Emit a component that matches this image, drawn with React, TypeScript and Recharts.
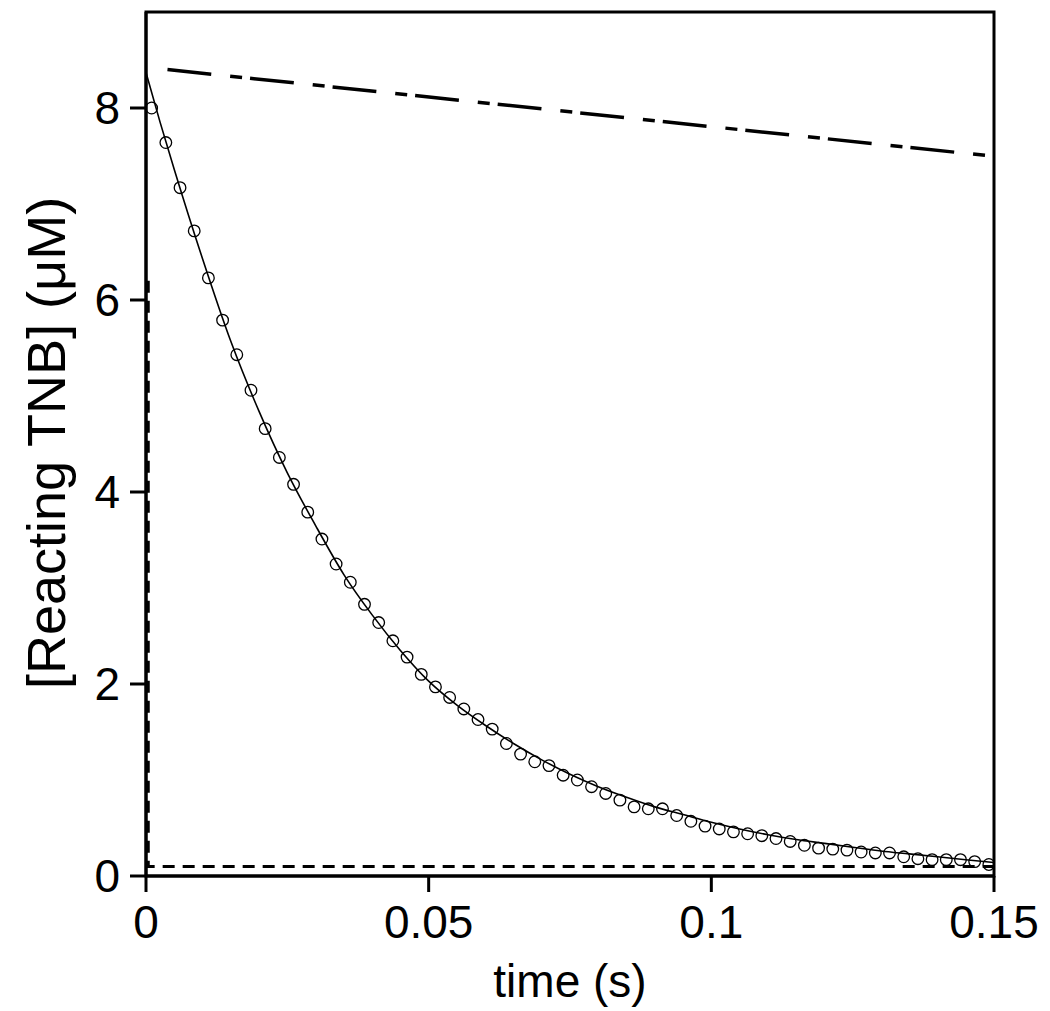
import {
  ComposedChart,
  Line,
  Scatter,
  XAxis,
  YAxis,
  ReferenceArea,
} from "recharts";

// measured points (open circles)
const obsTime = [
  0.001, 0.00351, 0.00602, 0.00853, 0.01104, 0.01355, 0.01606, 0.01857, 0.02108, 0.02359,
  0.0261, 0.02861, 0.03112, 0.03363, 0.03614, 0.03865, 0.04116, 0.04367, 0.04618, 0.04869,
  0.0512, 0.05371, 0.05622, 0.05873, 0.06124, 0.06375, 0.06626, 0.06877, 0.07128, 0.07379,
  0.0763, 0.07881, 0.08132, 0.08383, 0.08634, 0.08885, 0.09136, 0.09387, 0.09638, 0.09889,
  0.1014, 0.10391, 0.10642, 0.10893, 0.11144, 0.11395, 0.11646, 0.11897, 0.12148, 0.12399,
  0.1265, 0.12901, 0.13152, 0.13403, 0.13654, 0.13905, 0.14156, 0.14407, 0.14658, 0.14909,
];
const obsTnb = [
  8.0, 7.64, 7.17, 6.72, 6.23, 5.79, 5.43, 5.06, 4.66, 4.36,
  4.08, 3.79, 3.51, 3.25, 3.06, 2.83, 2.64, 2.45, 2.28, 2.1,
  1.97, 1.86, 1.74, 1.63, 1.53, 1.38, 1.27, 1.19, 1.15, 1.05,
  1.0, 0.93, 0.86, 0.79, 0.72, 0.7, 0.7, 0.63, 0.57, 0.52,
  0.49, 0.46, 0.44, 0.42, 0.39, 0.36, 0.32, 0.29, 0.28, 0.27,
  0.25, 0.24, 0.24, 0.2, 0.18, 0.17, 0.17, 0.17, 0.15, 0.12,
];

// fitted curve (solid)
const fitTime = [
  0, 0.0025, 0.005, 0.01, 0.015, 0.02, 0.025, 0.03, 0.035, 0.04, 0.045, 0.05,
  0.055, 0.06, 0.065, 0.07, 0.075, 0.08, 0.085, 0.09, 0.095, 0.1,
  0.105, 0.11, 0.115, 0.12, 0.125, 0.13, 0.135, 0.14, 0.145, 0.15,
];
const fitTnb = [
  8.37, 7.85, 7.36, 6.43, 5.57, 4.84, 4.2, 3.65, 3.14, 2.72, 2.35, 2.03,
  1.78, 1.57, 1.38, 1.21, 1.06, 0.93, 0.82, 0.72, 0.64, 0.56,
  0.49, 0.43, 0.38, 0.34, 0.3, 0.26, 0.23, 0.2, 0.17, 0.14,
];

// dash-dot line
const slowTime = [0.0038, 0.1495];
const slowTnb = [8.4, 7.5];

// dashed line (vertical drop then baseline)
const baseTime = [0.0004, 0.0004, 0.15];
const baseTnb = [6.2, 0.1, 0.1];

const xTicks = [0, 0.05, 0.1, 0.15];
const yTicks = [0, 2, 4, 6, 8];

const zip = (ts: number[], vs: number[]) => ts.map((t, i) => ({ t, v: vs[i] }));
const obsData = zip(obsTime, obsTnb);
const fitData = zip(fitTime, fitTnb);
const slowData = zip(slowTime, slowTnb);
const baseData = zip(baseTime, baseTnb);

const FONT = "'Liberation Sans', Arial, Helvetica, sans-serif";

const YLabel = ({ viewBox }: any) => {
  const x = viewBox.x + 65;
  const y = viewBox.y + viewBox.height / 2 - 1;
  return (
    <text
      x={x}
      y={y}
      transform={`rotate(-90 ${x} ${y})`}
      textAnchor="middle"
      fontSize={54}
      fontFamily={FONT}
      fill="#000"
    >
      [Reacting TNB] (μM)
    </text>
  );
};

const Ring = ({ cx, cy }: any) => (
  <circle cx={cx} cy={cy} r={5.8} fill="none" stroke="#000" strokeWidth={1.3} />
);

export default function App() {
  const tick = { fontSize: 46, fill: "#000", fontFamily: FONT };
  return (
    <div style={{ position: "absolute", left: 0, top: 0, background: "#fff" }}>
      <ComposedChart
        width={1050}
        height={1011}
        margin={{ top: 12, right: 56, left: 0, bottom: 0 }}
      >
        <XAxis
          dataKey="t"
          type="number"
          domain={[0, 0.15]}
          ticks={xTicks}
          allowDataOverflow
          height={135}
          tickSize={16}
          tickMargin={13}
          tick={tick}
          axisLine={{ stroke: "#000", strokeWidth: 3 }}
          tickLine={{ stroke: "#000", strokeWidth: 3 }}
          label={{
            value: "time (s)",
            position: "insideBottom",
            offset: 14,
            fontSize: 46,
            fill: "#000",
            fontFamily: FONT,
          }}
        />
        <YAxis
          dataKey="v"
          type="number"
          domain={[0, 9]}
          ticks={yTicks}
          allowDataOverflow
          width={146}
          tickSize={16}
          tickMargin={10}
          tick={tick}
          axisLine={{ stroke: "#000", strokeWidth: 3 }}
          tickLine={{ stroke: "#000", strokeWidth: 3 }}
          label={<YLabel />}
        />
        <ReferenceArea
          x1={0}
          x2={0.15}
          y1={0}
          y2={9}
          fill="none"
          stroke="#000"
          strokeWidth={3}
        />
        <Line
          data={baseData}
          dataKey="v"
          type="linear"
          stroke="#000"
          strokeWidth={3}
          strokeDasharray="12 8"
          dot={false}
          isAnimationActive={false}
        />
        <Line
          data={slowData}
          dataKey="v"
          type="linear"
          stroke="#000"
          strokeWidth={3.5}
          strokeDasharray="44 19 12 8"
          dot={false}
          isAnimationActive={false}
        />
        <Line
          data={fitData}
          dataKey="v"
          type="monotone"
          stroke="#000"
          strokeWidth={1.6}
          dot={false}
          isAnimationActive={false}
        />
        <Scatter data={obsData} dataKey="v" shape={<Ring />} isAnimationActive={false} />
      </ComposedChart>
    </div>
  );
}
